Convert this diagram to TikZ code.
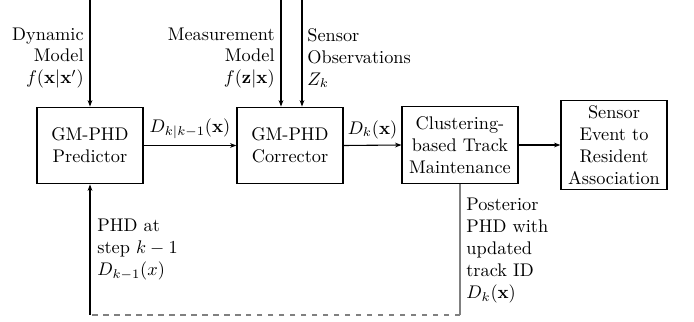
\documentclass[tikz,border=0pt]{standalone}
\usetikzlibrary{arrows.meta}
\begin{document}
\begin{tikzpicture}[x=0.5467pt,y=-0.5467pt,
  box/.style={draw, semithick, align=center, inner sep=2pt},
  arr/.style={-{Stealth[length=3.5pt,width=2.6pt]}, semithick},
  lbl/.style={inner sep=0pt, font=\normalsize}]
\useasboundingbox (0,0) rectangle (694,322);
\node[box, minimum width=58pt, minimum height=42pt] (pred) at (90,145.5) {GM-PHD\\Predictor};
\node[box, minimum width=58pt, minimum height=42pt] (corr) at (290,145.5) {GM-PHD\\Corrector};
\node[box, minimum width=63.4pt, minimum height=42pt] (clust) at (460,145) {Clustering-\\based Track\\Maintenance};
\node[box, minimum width=58pt, minimum height=49pt] (sens) at (614,145) {Sensor\\Event to\\Resident\\Association};
\coordinate (tdyn) at (90,0);
\coordinate (tmeas) at (281,0);
\coordinate (tobs) at (302,0);
\draw[arr] (tdyn) -- (pred.north);
\draw[arr] (tmeas) -- (tmeas |- corr.north);
\draw[arr] (tobs) -- (tobs |- corr.north);
\node[lbl, anchor=east, align=right] (ldyn) at (84,58) {Dynamic\\Model\\$f(\mathbf{x}|\mathbf{x}')$};
\node[lbl, anchor=east, align=right] (lmeas) at (275,58) {Measurement\\Model\\$f(\mathbf{z}|\mathbf{x})$};
\node[lbl, anchor=west, align=left] (lobs) at (307,58) {Sensor\\Observations\\$Z_k$};
\draw[arr] (pred.east) -- node[above] {$D_{k|k-1}(\mathbf{x})$} (corr.west);
\draw[arr] (corr.east) -- node[above] {$D_k(\mathbf{x})$} (clust.west);
\draw[arr] (clust.east) -- (sens.west);
\coordinate (fbr) at (clust.south |- 0,315);
\coordinate (fbl) at (pred.south |- 0,315);
\draw[semithick, gray] (clust.south) -- (fbr);
\draw[semithick, gray, dashed] (fbr) -- (fbl);
\draw[arr] (fbl) -- (pred.south);
\node[lbl, anchor=north west, align=left] (lphd) at (97,219) {PHD at\\step $k-1$\\$D_{k-1}(x)$};
\node[lbl, anchor=north west, align=left] (lpost) at (466,198) {Posterior\\PHD with\\updated\\track ID\\$D_k(\mathbf{x})$};
\end{tikzpicture}
\end{document}
